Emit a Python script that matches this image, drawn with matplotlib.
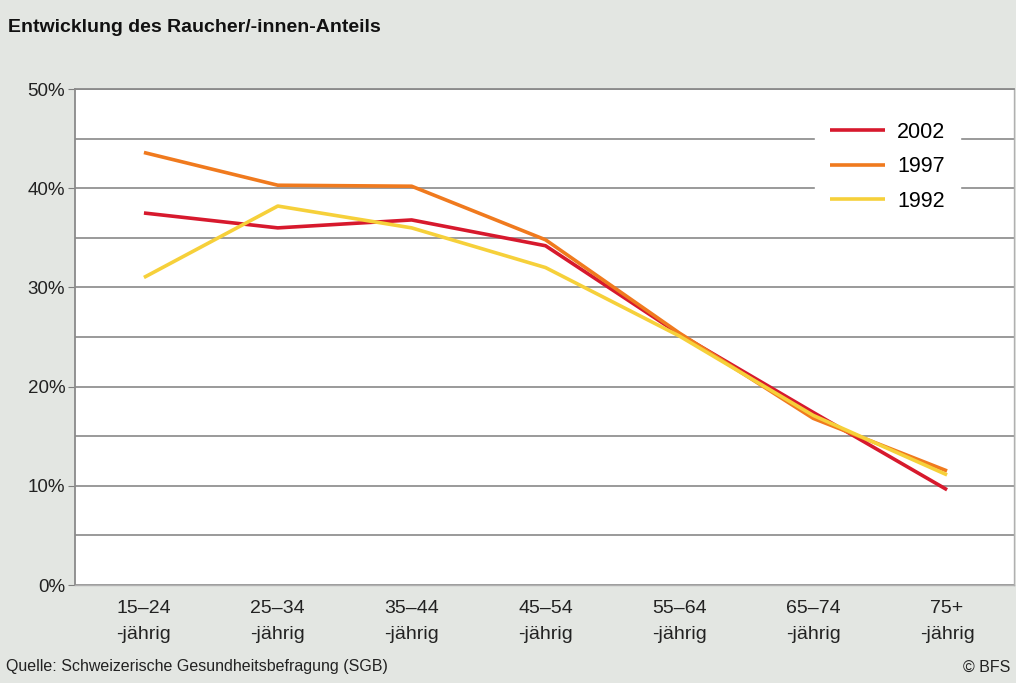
import matplotlib.pyplot as plt
from matplotlib.ticker import MultipleLocator, FuncFormatter

plt.rcParams['font.family'] = ['Liberation Sans', 'DejaVu Sans']

categories = ['15–24\n-jährig', '25–34\n-jährig', '35–44\n-jährig', '45–54\n-jährig',
              '55–64\n-jährig', '65–74\n-jährig', '75+\n-jährig']
years = ['2002', '1997', '1992']
share_2002 = [37.5, 36.0, 36.8, 34.2, 25.3, 17.4, 9.6]
share_1997 = [43.6, 40.3, 40.2, 34.8, 25.4, 16.8, 11.5]
share_1992 = [31.0, 38.2, 36.0, 32.0, 25.1, 17.1, 11.1]
colors = ['#d7192d', '#f07a1e', '#f6d03a']

bg = '#e3e6e2'
fig = plt.figure(figsize=(10.16, 6.83), dpi=100, facecolor=bg)
ax = fig.add_axes([75 / 1016, 98 / 683, 939 / 1016, 496 / 683])
ax.set_facecolor('white')

x = list(range(len(categories)))
for name, vals, c in zip(years, [share_2002, share_1997, share_1992], colors):
    ax.plot(x, vals, color=c, lw=2.6, label=name, solid_capstyle='butt')

ax.set_xlim(-0.515, 6.5)
ax.set_ylim(0, 50)
ax.yaxis.set_major_locator(MultipleLocator(10))
ax.yaxis.set_minor_locator(MultipleLocator(5))
ax.yaxis.set_major_formatter(FuncFormatter(lambda v, p: '{:d}%'.format(int(v))))
ax.grid(True, which='both', axis='y', color='#7f7f7f', lw=1.1)
ax.set_axisbelow(True)
ax.set_xticks(x)
ax.set_xticklabels(categories, fontsize=14, color='#222222', linespacing=1.7)
ax.tick_params(axis='x', length=0, pad=11)
ax.tick_params(axis='y', which='major', length=5, color='#7f7f7f', labelsize=13.5,
               labelcolor='#222222', pad=2)
ax.tick_params(axis='y', which='minor', length=0)

for s in ['left', 'top']:
    ax.spines[s].set_color('#8a8a8a')
    ax.spines[s].set_linewidth(1.3)
for s in ['right', 'bottom']:
    ax.spines[s].set_color('#b0b0b0')
    ax.spines[s].set_linewidth(1.0)

leg = ax.legend(loc='upper left', bbox_to_anchor=(0.788, 0.964), frameon=True,
                fontsize=15.5, handlelength=2.55, handletextpad=0.56,
                labelspacing=0.62, borderpad=0.7, borderaxespad=0)
leg.get_frame().set_facecolor('white')
leg.get_frame().set_edgecolor('white')
leg.get_frame().set_alpha(1)

fig.text(8 / 1016, 1 - 27 / 683, 'Entwicklung des Raucher/-innen-Anteils',
         fontsize=14, fontweight='bold', va='center', ha='left', color='#111111')
fig.text(6 / 1016, 1 - 667 / 683, 'Quelle: Schweizerische Gesundheitsbefragung (SGB)',
         fontsize=11.5, va='center', ha='left', color='#222222')
fig.text(1010 / 1016, 1 - 667 / 683, '© BFS', fontsize=11.5, va='center',
         ha='right', color='#222222')

fig.savefig('out.png', dpi=100, facecolor=bg)
